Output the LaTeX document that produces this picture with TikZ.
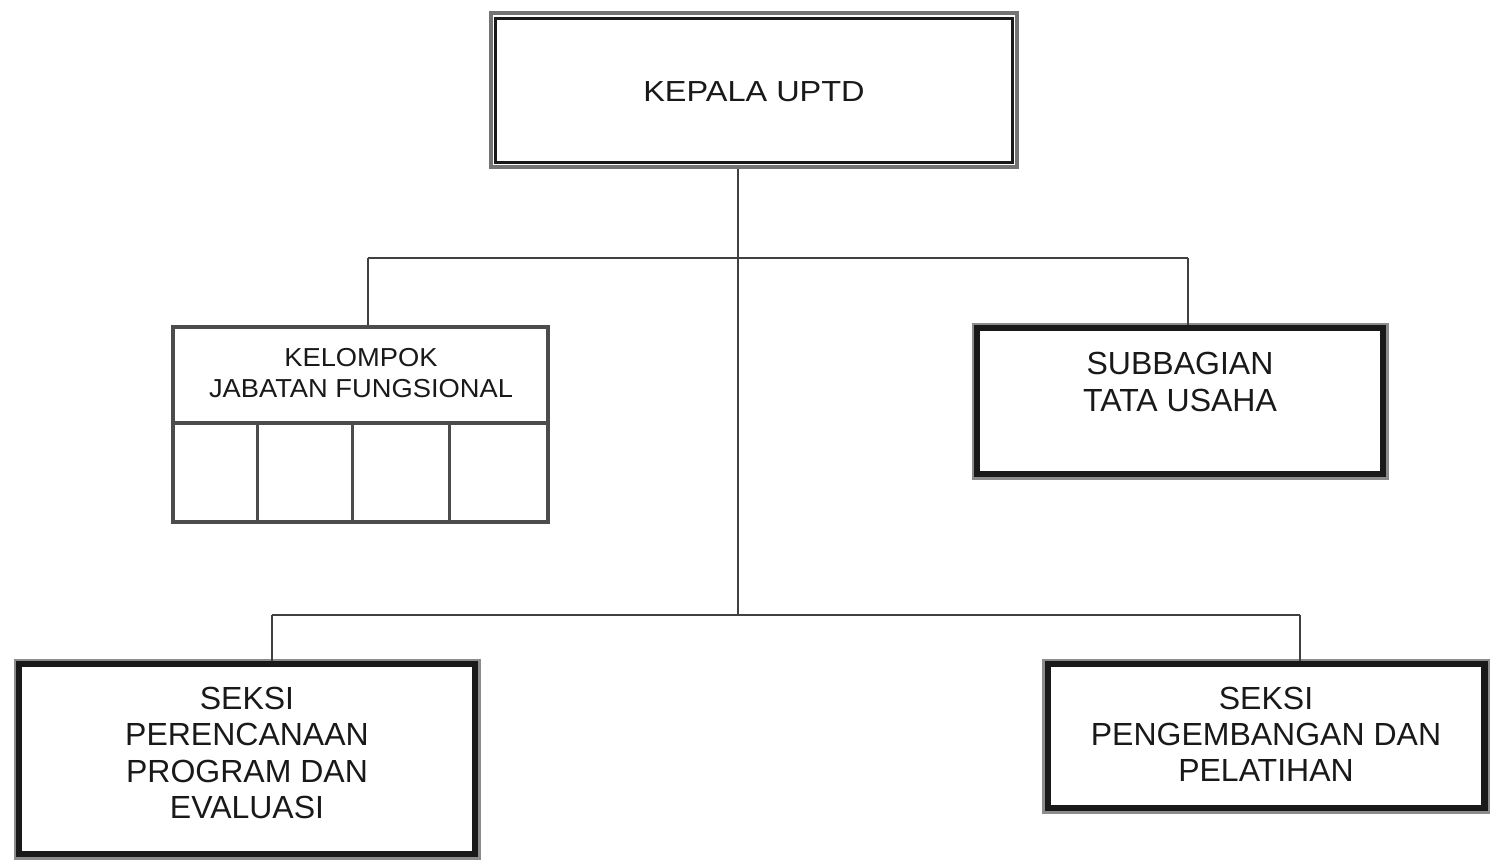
\documentclass[tikz,border=0pt]{standalone}
\usepackage{fontspec}
\setmainfont{Liberation Sans}
\begin{document}
\begin{tikzpicture}[x=1pt,y=-1pt,
  box/.style={draw=black!85, rectangle, inner sep=0pt, fill=white},
  lbl/.style={align=center, text=black!90, inner sep=0pt},
  conn/.style={draw=black!75, line width=1.5pt},
  thick box/.style={box, draw=black!90, line width=6.5pt},
  halo/.style={draw=black!45, line width=2.5pt},
]
\useasboundingbox (0,0) rectangle (1502,861);
\fill[white] (0,0) rectangle (1502,861);

% KEPALA UPTD
\node[box, draw=black!55, line width=4.5pt, minimum width=526pt, minimum height=154pt] (kepala) at (754,90) {};
\draw[black!90, line width=3pt] ([shift={(7,8)}]kepala.north west) rectangle ([shift={(-7,-7)}]kepala.south east);
\node[lbl, font=\fontsize{29}{33}\selectfont\addfontfeature{FakeStretch=1.12}] (kepalat) at (754,92) {KEPALA UPTD};

% KELOMPOK JABATAN FUNGSIONAL
\node[box, draw=black!70, line width=4pt, minimum width=375pt, minimum height=195pt] (kelompok) at (360.5,424.5) {};
\coordinate (kdl) at (173,423);
\coordinate (kdr) at (548,423);
\draw[black!70, line width=4pt] (kdl) -- (kdr);
\foreach \xx in {257,352,449}{
  \draw[black!70, line width=3pt] (\xx,423) -- (\xx,522);
}
\node[lbl, font=\fontsize{26}{31}\selectfont\addfontfeature{FakeStretch=1.05}] (kelompokt) at (361,373) {KELOMPOK\\JABATAN FUNGSIONAL};

% SUBBAGIAN TATA USAHA
\node[thick box, minimum width=406pt, minimum height=146pt] (subbag) at (1180,401) {};
\draw[halo] ([shift={(-1,-1)}]subbag.north west) rectangle ([shift={(1,1)}]subbag.south east);
\node[lbl, font=\fontsize{32}{37}\selectfont] (subbagt) at (1180,382) {SUBBAGIAN\\TATA USAHA};

% SEKSI PERENCANAAN PROGRAM DAN EVALUASI
\node[thick box, minimum width=456pt, minimum height=190pt] (perenc) at (247,759) {};
\draw[halo] ([shift={(-1,-1)}]perenc.north west) rectangle ([shift={(1,1)}]perenc.south east);
\node[lbl, font=\fontsize{32}{36.5}\selectfont] (perenct) at (247,753) {SEKSI\\PERENCANAAN\\PROGRAM DAN\\EVALUASI};

% SEKSI PENGEMBANGAN DAN PELATIHAN
\node[thick box, minimum width=437pt, minimum height=144pt] (pengemb) at (1266,736) {};
\draw[halo] ([shift={(-1,-1)}]pengemb.north west) rectangle ([shift={(1,1)}]pengemb.south east);
\node[lbl, font=\fontsize{32}{36}\selectfont] (pengembt) at (1266,734) {SEKSI\\PENGEMBANGAN DAN\\PELATIHAN};

% connectors
\coordinate (j1) at (738,258);
\coordinate (j2) at (738,615);
\coordinate (bl) at (368,258);
\coordinate (br) at (1188,258);
\coordinate (cl) at (272,615);
\coordinate (cr) at (1300,615);
\draw[conn] (kepala.south -| j1) -- (j2);
\draw[conn] (bl) -- (br);
\draw[conn] (bl) -- (bl |- kelompok.north);
\draw[conn] (br) -- (br |- subbag.north);
\draw[conn] (cl) -- (cr);
\draw[conn] (cl) -- (cl |- perenc.north);
\draw[conn] (cr) -- (cr |- pengemb.north);
\end{tikzpicture}
\end{document}
